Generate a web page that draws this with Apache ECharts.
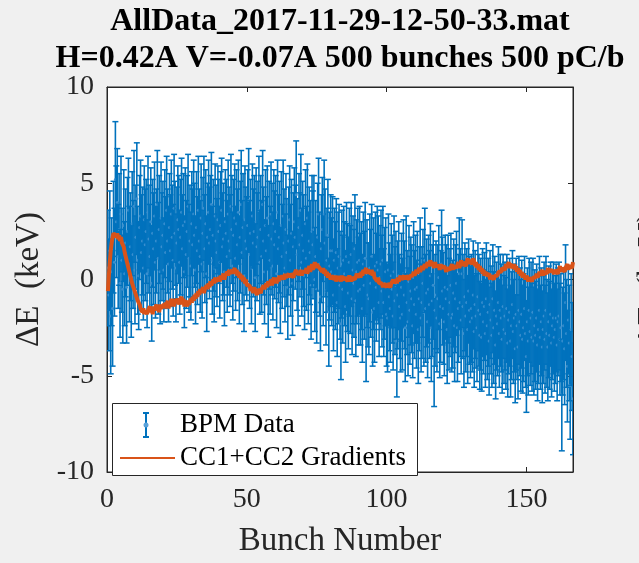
<!DOCTYPE html>
<html><head><meta charset="utf-8">
<script src="https://cdn.jsdelivr.net/npm/echarts@6/dist/echarts.min.js"></script>
<style>html,body{margin:0;padding:0;background:#f0f0f0}#c{width:639px;height:563px}</style>
</head><body><div id="c"></div>
<script>
const titleLine1 = 'AllData_2017-11-29-12-50-33.mat';
const titleLine2 = 'H=0.42A V=-0.07A 500 bunches 500 pC/b';
const xLabel = 'Bunch Number';
const yLabel = 'ΔE  (keV)';
const legendNames = ['BPM Data', 'CC1+CC2 Gradients'];
const yTicks = [-10, -5, 0, 5, 10];
const xTicks = [0, 50, 100, 150];
const bunchCount = 500;          // 500 bunches, plotted at bunch number i/3
const bunchesPerUnit = 3;

// BPM data: centre values (keV), one per bunch (500)
const bpmValues = [
  0.6, -0.8, 1.5, -1.9, 0.4, -1.5, 2.2, 0.9, 5.2, 3.0,
  4.0, 1.2, 2.6, -0.2, 3.4, 1.0, -0.5, 2.8, 0.3, 1.9,
  -0.4, 2.5, 3.6, 0.8, 1.7, -0.1, 2.9, 1.3, 3.8, 0.5,
  2.2, 4.2, 1.0, 0.2, 2.7, 3.3, 1.4, 2.0, 0.6, 3.1,
  1.8, 2.5, 0.3, 3.5, 2.1, 1.2, 3.0, -0.2, 2.4, 1.6,
  3.3, 0.9, 2.0, 3.9, 1.1, 2.6, 0.4, 3.2, 1.7, 2.3,
  0.5, 2.9, 1.4, 3.6, 2.0, 0.8, 2.7, 1.5, 3.4, 2.2,
  1.0, 3.7, 2.4, 0.6, 1.9, 3.1, 2.6, 0.9, 2.2, 3.5,
  1.6, 2.8, 0.4, 3.0, 1.3, 2.5, 3.8, 1.1, 2.0, 0.7,
  2.9, 1.8, 3.4, 2.3, 0.5, 2.7, 1.5, 3.6, 2.0, 1.2,
  3.2, 0.8, 2.4, 3.7, 1.6, 2.9, 0.3, 2.2, 3.5, 1.9,
  2.6, 3.9, 1.0, 2.3, 0.6, 3.3, 2.0, 1.4, 3.1, 2.5,
  0.9, 2.8, 3.6, 1.7, 2.1, 0.4, 3.0, 2.4, 1.2, 3.4,
  2.0, 1.5, 3.8, 2.6, 0.7, 2.3, 3.2, 1.1, 2.9, 1.8,
  3.5, 0.5, 2.2, 3.9, 1.4, 2.7, 0.2, 3.1, 2.0, 1.6,
  2.8, 4.1, 1.3, 2.4, 0.6, 3.3, 1.9, 2.5, 0.1, 3.0,
  1.7, 2.2, 3.6, 0.9, 2.6, 1.2, 3.9, 2.0, 0.4, 2.8,
  1.5, 3.2, -0.1, 2.3, 1.0, 3.4, 2.1, 0.7, 2.9, 1.8,
  2.5, 0.3, 3.5, 1.6, 2.2, 0.0, 2.8, 1.2, 3.3, 1.9,
  0.6, 2.6, 1.4, -0.4, 2.0, 3.1, 1.0, 2.4, -0.2, 1.7,
  3.0, 2.2, 4.4, 1.3, 0.4, 2.7, 1.8, 3.6, 0.9, 2.3,
  1.5, 0.2, 2.9, 1.1, 3.2, 0.6, 2.0, 1.4, -0.3, 2.5,
  1.8, 2.6, 0.0, 1.2, -0.5, 2.2, 3.4, 0.8, -0.9, 1.6,
  2.6, 0.5, 3.4, 1.9, -0.6, 1.0, 2.3, -1.7, 0.7, 1.5,
  0.4, 1.5, -0.8, 1.0, 0.2, 1.4, -1.2, 0.6, 1.2, -0.3,
  -2.3, 0.8, -0.5, 1.0, 0.3, -1.4, 1.2, 0.1, -0.7, 0.9,
  0.0, 1.3, -1.0, 0.5, -0.2, 1.6, -1.1, 0.4, 0.9, -0.6,
  1.0, -0.5, 0.2, -1.5, 0.8, -0.3, 1.1, -2.5, 0.3, -0.8,
  -1.0, 0.6, -0.2, 1.2, -1.7, 0.3, -1.5, 0.7, -0.4, 0.9,
  0.5, -1.2, 0.1, 0.8, -0.6, 1.0, -1.2, -0.2, 0.4, -1.8,
  -2.0, 0.5, -0.9, -1.5, 0.2, -0.5, -1.9, 0.4, -1.1, -0.3,
  -3.2, -0.8, 0.2, -1.4, -2.0, -0.4, -1.8, 0.3, -0.8, -2.5,
  0.5, -1.2, -2.2, -0.1, -1.6, -0.6, -1.0, -2.4, 0.1, -1.3,
  -0.5, -1.8, -0.4, -2.6, -1.0, 0.4, -2.0, -1.2, -0.2, -1.7,
  1.0, -1.5, -0.7, -2.2, -0.5, -1.3, 0.2, -2.5, -1.1, -0.3,
  -3.8, -1.6, -0.8, -2.0, -1.0, 0.1, -2.3, -1.4, 0.8, -0.6,
  -1.5, -2.2, -0.4, -1.0, -2.6, -0.5, -1.8, -1.2, -0.3, -2.0,
  -1.8, -0.7, -2.4, -1.0, -0.2, -2.5, -1.5, 0.3, -1.2, -2.1,
  0.3, -1.4, -2.8, -0.9, -1.9, -1.2, -2.6, -0.6, -1.6, -2.2,
  -1.5, -2.0, -0.8, -2.7, -1.3, -1.9, -2.5, -0.9, -1.6, -2.9,
  -1.8, -3.0, -1.2, -2.2, -1.4, -2.8, -1.0, -2.4, -1.7, -3.2,
  -1.3, -2.1, -2.9, -1.0, -2.5, -1.6, -3.4, -1.9, -2.3, -1.2,
  -2.8, -1.6, -2.0, -3.1, -1.4, -2.6, -1.9, -2.8, -1.5, -3.3,
  -2.1, -1.7, -3.2, -2.4, -1.3, -2.7, -2.0, -3.6, -1.8, -2.4,
  -3.5, -1.6, -2.2, -2.9, -1.8, -3.1, -2.5, -1.5, -2.8, -4.0,
  -2.2, -3.2, -1.6, -2.7, -2.0, -3.0, -1.7, -3.2, -2.4, -2.9,
  -2.0, -3.4, -2.6, -1.6, -3.0, -2.2, -3.5, -2.6, -1.9, -3.1,
  -1.6, -2.8, -3.5, -2.2, -2.9, -1.8, -3.3, -2.4, -2.0, -3.0,
  -2.6, -2.0, -3.4, -2.2, -1.9, -3.1, -2.5, -6.0, -3.2, -2.4,
  -3.6, -1.2, -2.8, -4.5, -2.1, -3.3, -5.5, -2.6, -4.0, -6.2
];
// BPM data: error half-widths (keV), one per bunch (500)
const bpmErrors = [
  3.0, 2.9, 3.1, 3.0, 2.8, 3.0, 2.9, 2.8, 3.0, 2.9,
  2.8, 2.7, 2.9, 2.8, 3.0, 2.7, 2.8, 2.9, 2.7, 2.8,
  2.9, 2.8, 2.7, 3.0, 2.8, 2.9, 2.7, 2.8, 2.9, 2.8,
  2.7, 2.9, 2.8, 2.8, 2.7, 2.9, 3.0, 2.8, 2.7, 2.8,
  2.9, 2.7, 2.8, 2.9, 2.8, 2.7, 2.8, 3.0, 2.8, 2.9,
  2.8, 2.9, 2.7, 2.8, 2.9, 2.8, 2.7, 2.9, 2.8, 2.8,
  2.7, 2.8, 2.9, 2.8, 2.7, 3.0, 2.8, 2.9, 2.8, 2.7,
  2.9, 2.8, 2.7, 2.8, 2.9, 2.8, 2.8, 2.7, 3.0, 2.8,
  2.8, 2.7, 2.9, 2.8, 2.8, 2.9, 2.7, 2.8, 2.9, 2.8,
  2.7, 2.9, 2.8, 2.7, 2.8, 2.9, 2.8, 2.8, 2.7, 2.9,
  2.8, 2.8, 2.9, 2.7, 2.8, 2.8, 3.0, 2.8, 2.7, 2.9,
  2.8, 2.7, 2.8, 2.9, 2.8, 2.7, 2.9, 2.8, 2.8, 2.7,
  2.9, 2.8, 2.7, 2.8, 2.9, 2.8, 2.7, 2.8, 2.9, 2.8,
  2.8, 2.9, 2.7, 2.8, 2.8, 2.9, 2.8, 2.7, 2.8, 2.9,
  2.7, 2.8, 2.9, 2.8, 2.7, 2.8, 2.9, 2.8, 2.8, 2.7,
  2.9, 2.7, 2.8, 2.8, 2.9, 2.7, 2.8, 2.9, 2.8, 2.8,
  2.8, 2.9, 2.8, 2.7, 2.8, 2.9, 2.8, 2.8, 2.7, 2.9,
  2.8, 2.7, 2.9, 2.8, 2.8, 2.7, 2.9, 2.8, 2.8, 2.8,
  2.9, 2.8, 2.7, 2.8, 2.9, 2.8, 2.8, 2.7, 2.9, 2.8,
  2.8, 2.9, 2.8, 2.7, 2.8, 2.8, 2.9, 2.8, 2.7, 2.8,
  2.8, 2.7, 2.8, 2.9, 2.8, 2.8, 2.7, 2.9, 2.8, 2.8,
  2.9, 2.8, 2.8, 2.7, 2.8, 2.9, 2.8, 2.7, 2.8, 2.9,
  2.8, 2.8, 2.7, 2.9, 2.8, 2.8, 2.9, 2.7, 2.8, 2.8,
  2.7, 2.9, 2.8, 2.8, 2.8, 2.7, 2.9, 2.8, 2.8, 2.9,
  2.8, 2.8, 2.9, 2.7, 2.8, 2.8, 2.8, 2.9, 2.7, 2.8,
  2.9, 2.8, 2.8, 2.8, 2.7, 2.9, 2.8, 2.8, 2.9, 2.8,
  2.8, 2.7, 2.9, 2.8, 2.8, 2.8, 2.9, 2.7, 2.8, 2.8,
  2.8, 2.9, 2.8, 2.8, 2.7, 2.8, 2.9, 2.8, 2.8, 2.7,
  2.9, 2.8, 2.8, 2.7, 2.8, 2.9, 2.8, 2.8, 2.8, 2.9,
  2.8, 2.8, 2.7, 2.8, 2.9, 2.8, 2.8, 2.9, 2.8, 2.7,
  2.8, 2.9, 2.8, 2.8, 2.7, 2.8, 2.8, 2.9, 2.8, 2.8,
  2.9, 2.8, 2.8, 2.7, 2.8, 2.8, 2.9, 2.8, 2.8, 2.8,
  2.8, 2.7, 2.8, 2.9, 2.8, 2.8, 2.8, 2.7, 2.9, 2.8,
  2.8, 2.8, 2.9, 2.8, 2.7, 2.8, 2.8, 2.9, 2.8, 2.8,
  2.7, 2.8, 2.8, 2.9, 2.8, 2.8, 2.7, 2.8, 2.9, 2.8,
  2.8, 2.9, 2.8, 2.8, 2.8, 2.7, 2.8, 2.9, 2.8, 2.8,
  2.9, 2.8, 2.7, 2.8, 2.8, 2.8, 2.9, 2.8, 2.7, 2.8,
  2.8, 2.8, 2.9, 2.8, 2.7, 2.8, 2.8, 2.9, 2.8, 2.8,
  2.8, 2.7, 2.8, 2.8, 2.9, 2.8, 2.8, 2.7, 2.8, 2.9,
  2.8, 2.8, 2.8, 2.9, 2.8, 2.7, 2.8, 2.8, 2.9, 2.8,
  2.9, 2.8, 2.8, 2.7, 2.8, 2.8, 2.9, 2.8, 2.8, 2.8,
  2.8, 2.8, 2.7, 2.8, 2.9, 2.8, 2.8, 2.8, 2.7, 2.9,
  2.8, 2.9, 2.8, 2.8, 2.7, 2.8, 2.8, 2.9, 2.8, 2.8,
  2.8, 2.8, 2.9, 2.8, 2.8, 2.7, 2.8, 2.8, 2.9, 2.8,
  2.7, 2.8, 2.8, 2.9, 2.8, 2.8, 2.8, 2.7, 2.8, 2.9,
  2.8, 2.8, 2.7, 2.8, 2.9, 2.8, 2.8, 2.8, 2.9, 2.8,
  2.8, 2.9, 2.8, 2.8, 2.7, 2.8, 2.9, 2.8, 2.8, 2.8,
  2.8, 2.8, 2.8, 2.9, 2.8, 2.7, 2.8, 2.8, 2.9, 2.8,
  2.8, 2.8, 2.9, 2.8, 2.8, 2.9, 2.8, 2.9, 2.8, 2.8,
  2.9, 3.0, 2.8, 2.9, 2.8, 3.0, 2.8, 2.9, 2.8, 2.9
];
// CC1+CC2 Gradients prediction (keV), one per bunch (500)
const gradValues = [
  -0.6, 0.2, 0.9, 1.5, 1.9, 2.2, 2.4, 2.3, 2.5, 2.2, 2.4, 2.1, 2.3, 2.0, 2.2,
  1.9, 1.8, 1.7, 1.4, 1.3, 1.0, 0.9, 0.6, 0.5, 0.2, 0.1, -0.2, -0.3, -0.5, -0.6,
  -0.8, -0.9, -1.1, -1.2, -1.3, -1.5, -1.4, -1.7, -1.5, -1.8, -1.6, -1.5, -1.8, -1.6, -1.7,
  -1.4, -1.7, -1.5, -1.8, -1.4, -1.6, -1.5, -1.3, -1.6, -1.4, -1.7, -1.3, -1.5, -1.4, -1.6,
  -1.3, -1.5, -1.2, -1.4, -1.1, -1.5, -1.2, -1.4, -1.0, -1.3, -1.1, -1.4, -1.0, -1.2, -1.3,
  -1.0, -1.3, -1.1, -1.2, -0.9, -1.3, -1.0, -1.4, -1.1, -1.2, -1.4, -1.1, -1.3, -1.2, -1.0,
  -1.2, -0.9, -1.1, -0.8, -1.0, -0.7, -0.9, -0.6, -0.8, -0.5, -0.7, -0.6, -0.4, -0.7, -0.5,
  -0.6, -0.3, -0.5, -0.2, -0.4, -0.1, -0.3, -0.2, 0.0, -0.2, 0.1, -0.1, 0.0, -0.2, 0.1,
  -0.1, 0.2, 0.0, 0.1, 0.3, 0.0, 0.2, 0.1, 0.4, 0.2, 0.5, 0.3, 0.2, 0.5, 0.3,
  0.4, 0.6, 0.3, 0.5, 0.2, 0.4, 0.1, 0.3, 0.0, 0.2, -0.1, 0.1, -0.2, 0.0, -0.3,
  -0.2, -0.4, -0.3, -0.6, -0.4, -0.5, -0.7, -0.4, -0.6, -0.5, -0.8, -0.5, -0.6, -0.4, -0.7,
  -0.5, -0.6, -0.3, -0.5, -0.4, -0.2, -0.4, -0.1, -0.3, -0.2, 0.0, -0.3, -0.1, 0.1, -0.2,
  0.0, -0.2, 0.1, -0.1, 0.2, 0.0, -0.1, 0.2, 0.1, 0.0, 0.3, 0.1, 0.2, 0.0, 0.3,
  0.1, 0.3, 0.2, 0.4, 0.1, 0.3, 0.2, 0.5, 0.3, 0.2, 0.4, 0.3, 0.5, 0.2, 0.4,
  0.3, 0.5, 0.4, 0.6, 0.3, 0.5, 0.7, 0.4, 0.6, 0.8, 0.5, 0.7, 0.9, 0.6, 0.8,
  0.7, 0.9, 0.6, 0.5, 0.7, 0.4, 0.6, 0.3, 0.5, 0.2, 0.4, 0.1, 0.3, 0.2, 0.0,
  0.2, 0.1, 0.3, 0.0, 0.2, -0.1, 0.1, 0.2, 0.0, 0.1, -0.1, 0.2, 0.0, 0.1, -0.1,
  0.1, 0.2, -0.1, 0.0, 0.2, 0.1, -0.1, 0.1, 0.0, 0.2, 0.0, 0.1, 0.3, 0.1, 0.2,
  0.3, 0.1, 0.4, 0.2, 0.5, 0.3, 0.4, 0.6, 0.3, 0.5, 0.4, 0.6, 0.3, 0.5, 0.2,
  0.4, 0.1, 0.2, 0.0, -0.1, 0.1, -0.2, -0.1, -0.3, -0.2, -0.4, -0.2, -0.3, -0.1, -0.4,
  -0.2, -0.3, -0.1, -0.4, -0.2, -0.3, 0.0, -0.2, -0.1, 0.0, -0.2, 0.1, -0.1, 0.0, 0.2,
  0.0, 0.1, -0.1, 0.2, 0.0, 0.2, 0.1, 0.3, 0.0, 0.2, 0.1, 0.3, 0.2, 0.4, 0.2,
  0.3, 0.5, 0.3, 0.4, 0.6, 0.4, 0.5, 0.7, 0.5, 0.6, 0.8, 0.6, 0.7, 0.9, 0.7,
  0.8, 1.0, 0.7, 0.9, 0.8, 0.6, 0.9, 0.7, 0.8, 0.6, 0.7, 0.5, 0.8, 0.6, 0.7,
  0.5, 0.7, 0.6, 0.4, 0.6, 0.5, 0.7, 0.5, 0.6, 0.8, 0.5, 0.7, 0.6, 0.8, 0.6,
  0.7, 0.9, 0.6, 0.8, 1.0, 0.7, 0.9, 0.8, 1.0, 0.7, 0.9, 1.1, 0.8, 1.0, 0.9,
  1.0, 0.8, 1.1, 0.9, 0.7, 0.9, 0.6, 0.8, 0.5, 0.7, 0.4, 0.6, 0.3, 0.5, 0.2,
  0.4, 0.2, 0.3, 0.1, 0.3, 0.0, 0.2, 0.1, 0.3, 0.0, 0.2, 0.1, 0.3, 0.2, 0.4,
  0.3, 0.5, 0.4, 0.6, 0.5, 0.7, 0.5, 0.8, 0.6, 0.7, 0.9, 0.6, 0.8, 0.7, 0.9,
  0.6, 0.8, 0.5, 0.7, 0.4, 0.6, 0.3, 0.5, 0.2, 0.4, 0.1, 0.3, 0.2, 0.0, 0.2,
  0.1, -0.1, 0.1, 0.0, 0.2, -0.1, 0.1, 0.0, 0.2, 0.1, 0.3, 0.1, 0.2, 0.4, 0.2,
  0.3, 0.5, 0.2, 0.4, 0.3, 0.5, 0.3, 0.6, 0.4, 0.5, 0.3, 0.5, 0.4, 0.6, 0.3,
  0.5, 0.4, 0.6, 0.3, 0.5, 0.7, 0.4, 0.6, 0.5, 0.7, 0.4, 0.6, 0.5, 0.8, 0.5,
  0.7, 0.6, 0.8, 0.6, 0.9
];

const FONT = "'Liberation Serif','Times New Roman',serif";
const AX = '#262626';
const BLUE = '#0072BD';
const ORANGE = '#D95319';
const xMax = bunchCount / bunchesPerUnit;

const bpmData = bpmValues.map((v, i) => [(i + 1) / bunchesPerUnit, v, bpmErrors[i]]);
const gradData = gradValues.map((v, i) => [(i + 1) / bunchesPerUnit, v]);

const chart = echarts.init(document.getElementById('c'), null, {renderer: 'canvas'});

function errRender(params, api) {
  const x = api.value(0), c = api.value(1), e = api.value(2);
  const top = api.coord([x, c + e]);
  const bot = api.coord([x, c - e]);
  const mid = api.coord([x, c]);
  const hw = 3;
  const st = {stroke: BLUE, lineWidth: 1.6};
  return {
    type: 'group',
    children: [
      {type: 'line', shape: {x1: top[0], y1: top[1], x2: bot[0], y2: bot[1]}, style: st},
      {type: 'line', shape: {x1: top[0] - hw, y1: top[1], x2: top[0] + hw, y2: top[1]}, style: {stroke: BLUE, lineWidth: 1.5}},
      {type: 'line', shape: {x1: bot[0] - hw, y1: bot[1], x2: bot[0] + hw, y2: bot[1]}, style: {stroke: BLUE, lineWidth: 1.5}},
      {type: 'circle', shape: {cx: mid[0], cy: mid[1], r: 1.5}, style: {fill: '#3a8fcf'}}
    ]
  };
}

const axisCommon = {
  axisLine: {show: true, onZero: false, lineStyle: {color: AX, width: 1}},
  axisTick: {show: true, inside: true, length: 5, lineStyle: {color: AX}},
  splitLine: {show: false}
};

chart.setOption({
  animation: false,
  backgroundColor: '#f0f0f0',
  grid: {left: 107, right: 66, top: 87, bottom: 82, show: true, backgroundColor: '#ffffff', borderColor: AX, borderWidth: 1},
  xAxis: [
    Object.assign({
      type: 'value', min: 0, max: xMax, interval: 50, position: 'bottom',
      axisLabel: {color: AX, fontFamily: FONT, fontSize: 28, margin: 14,
        formatter: v => (xTicks.indexOf(v) >= 0 ? String(v) : '')},
      name: xLabel, nameLocation: 'middle', nameGap: 53,
      nameTextStyle: {color: AX, fontFamily: FONT, fontSize: 33}
    }, axisCommon),
    Object.assign({
      type: 'value', min: 0, max: xMax, interval: 50, position: 'top',
      axisLabel: {show: false}
    }, axisCommon)
  ],
  yAxis: [
    Object.assign({
      type: 'value', min: -10, max: 10, interval: 5, position: 'left',
      axisLabel: {color: AX, fontFamily: FONT, fontSize: 28, margin: 13,
        formatter: v => (yTicks.indexOf(v) >= 0 ? String(v) : '')},
      name: yLabel, nameLocation: 'middle', nameRotate: 90, nameGap: 60,
      nameTextStyle: {color: AX, fontFamily: FONT, fontSize: 33}
    }, axisCommon),
    Object.assign({
      type: 'value', min: -10, max: 10, interval: 5, position: 'right',
      axisLabel: {show: false}
    }, axisCommon)
  ],
  series: [
    {
      name: legendNames[0], type: 'custom', xAxisIndex: 0, yAxisIndex: 0,
      renderItem: errRender, data: bpmData, z: 2, clip: true
    },
    {
      name: legendNames[1], type: 'line', xAxisIndex: 0, yAxisIndex: 0,
      data: gradData, showSymbol: false, symbol: 'none', sampling: null,
      lineStyle: {color: ORANGE, width: 4}, z: 3
    }
  ],
  graphic: [
    {type: 'text', x: 340, y: 22, z: 10, style: {text: titleLine1, font: "bold 32px " + FONT, fill: '#000', align: 'center', verticalAlign: 'middle'}},
    {type: 'text', x: 340, y: 59, z: 10, style: {text: titleLine2, font: "bold 32px " + FONT, fill: '#000', align: 'center', verticalAlign: 'middle'}},
    {type: 'text', x: 651, y: 279, rotation: Math.PI / 2, z: 10, style: {text: yLabel, font: "33px " + FONT, fill: AX, align: 'center', verticalAlign: 'middle'}},
    {type: 'rect', z: 20, shape: {x: 112.5, y: 403.5, width: 305, height: 72}, style: {fill: '#ffffff', stroke: AX, lineWidth: 1}},
    {type: 'line', z: 21, shape: {x1: 146, y1: 413, x2: 146, y2: 437}, style: {stroke: BLUE, lineWidth: 2}},
    {type: 'line', z: 21, shape: {x1: 143, y1: 413, x2: 149, y2: 413}, style: {stroke: BLUE, lineWidth: 2}},
    {type: 'line', z: 21, shape: {x1: 143, y1: 437, x2: 149, y2: 437}, style: {stroke: BLUE, lineWidth: 2}},
    {type: 'circle', z: 21, shape: {cx: 146, cy: 425, r: 2.5}, style: {fill: '#5aa2da'}},
    {type: 'text', z: 21, x: 180, y: 425, style: {text: legendNames[0], font: "27px " + FONT, fill: '#000', align: 'left', verticalAlign: 'middle'}},
    {type: 'line', z: 21, shape: {x1: 120, y1: 458, x2: 175, y2: 458}, style: {stroke: ORANGE, lineWidth: 2}},
    {type: 'text', z: 21, x: 180, y: 458, style: {text: legendNames[1], font: "27px " + FONT, fill: '#000', align: 'left', verticalAlign: 'middle'}}
  ]
});
</script>
</body></html>
